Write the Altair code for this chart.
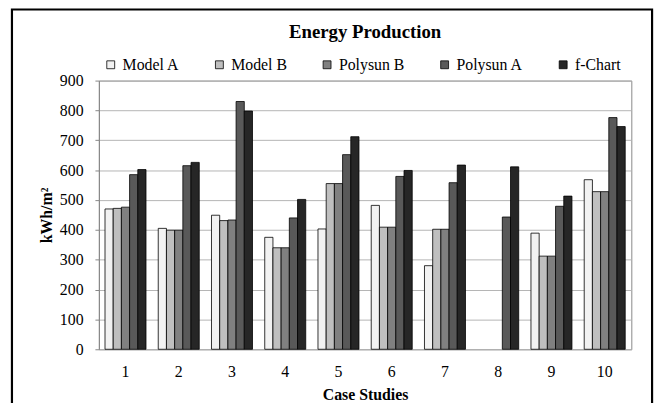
import altair as alt
import pandas as pd

cases = ["1", "2", "3", "4", "5", "6", "7", "8", "9", "10"]
series = ["Model A", "Model B", "Polysun B", "Polysun A", "f-Chart"]
colors = ["#f2f2f2", "#bfbfbf", "#808080", "#595959", "#262626"]

model_a = [470, 405, 449, 375, 403, 482, 280, None, 389, 568]
model_b = [472, 399, 431, 340, 555, 409, 402, None, 312, 528]
polysun_b = [476, 399, 433, 340, 555, 409, 402, None, 312, 528]
polysun_a = [585, 615, 830, 440, 652, 579, 558, 443, 479, 776]
f_chart = [602, 626, 798, 502, 712, 599, 617, 611, 513, 746]

y_ticks = [0, 100, 200, 300, 400, 500, 600, 700, 800, 900]

rows = []
for name, vals in zip(series, [model_a, model_b, polysun_b, polysun_a, f_chart]):
    for c, v in zip(cases, vals):
        if v is not None:
            rows.append({"case": c, "series": name, "value": v})
df = pd.DataFrame(rows)

FONT = "Times New Roman, Liberation Serif, serif"

bars = alt.Chart(df).mark_bar(stroke="black", strokeWidth=0.8).encode(
    x=alt.X(
        "case:N",
        sort=cases,
        scale=alt.Scale(paddingInner=0.23, paddingOuter=0.115),
        axis=alt.Axis(
            title="Case Studies",
            labelAngle=0,
            ticks=False,
            tickSize=0,
            domain=False,
            labelPadding=15,
            titlePadding=7,
            labelFont=FONT,
            labelFontSize=16,
            labelColor="black",
            titleFont=FONT,
            titleFontSize=16,
            titleFontWeight="bold",
            titleColor="black",
        ),
    ),
    xOffset=alt.XOffset(
        "series:N", sort=series, scale=alt.Scale(domain=series, paddingInner=0, paddingOuter=0)
    ),
    y=alt.Y(
        "value:Q",
        scale=alt.Scale(domain=[0, 900], nice=False),
        axis=alt.Axis(
            values=y_ticks,
            title="kWh/m²",
            grid=True,
            gridColor="#b4b4b4",
            gridWidth=1,
            domain=True,
            domainColor="#878787",
            tickColor="#878787",
            tickSize=4,
            labelPadding=12,
            titlePadding=5,
            labelFont=FONT,
            labelFontSize=16,
            labelColor="black",
            titleFont=FONT,
            titleFontSize=16,
            titleFontWeight="bold",
            titleColor="black",
        ),
    ),
    color=alt.Color(
        "series:N",
        sort=series,
        scale=alt.Scale(domain=series, range=colors),
        legend=alt.Legend(
            title=None,
            orient="none",
            legendX=4,
            legendY=-24,
            direction="horizontal",
            columnPadding=32,
            padding=0,
            symbolType="square",
            symbolSize=64,
            symbolStrokeColor="black",
            symbolStrokeWidth=0.8,
            labelOffset=4,
            labelFont=FONT,
            labelFontSize=16,
            labelColor="black",
            labelLimit=200,
        ),
    ),
)

frame = alt.Chart(pd.DataFrame({"k": [0]})).mark_rect(
    fillOpacity=0, stroke="black", strokeWidth=2.2
).encode(
    x=alt.value(-88), x2=alt.value(560), y=alt.value(-72), y2=alt.value(345)
)

chart = alt.layer(frame, bars).properties(
    width=539,
    height=272,
    title=alt.Title(
        "Energy Production",
        font=FONT,
        fontSize=19,
        fontWeight="bold",
        color="black",
        anchor="middle",
        frame="group",
        offset=0,
        dy=34,
    ),
    autosize=alt.AutoSizeParams(type="none"),
    padding={"left": 92, "top": 71, "right": 27, "bottom": 60},
    background="white",
).configure_view(stroke="#878787", strokeWidth=1)

chart.save("out.html", embed_options={"renderer": "svg", "actions": False})
